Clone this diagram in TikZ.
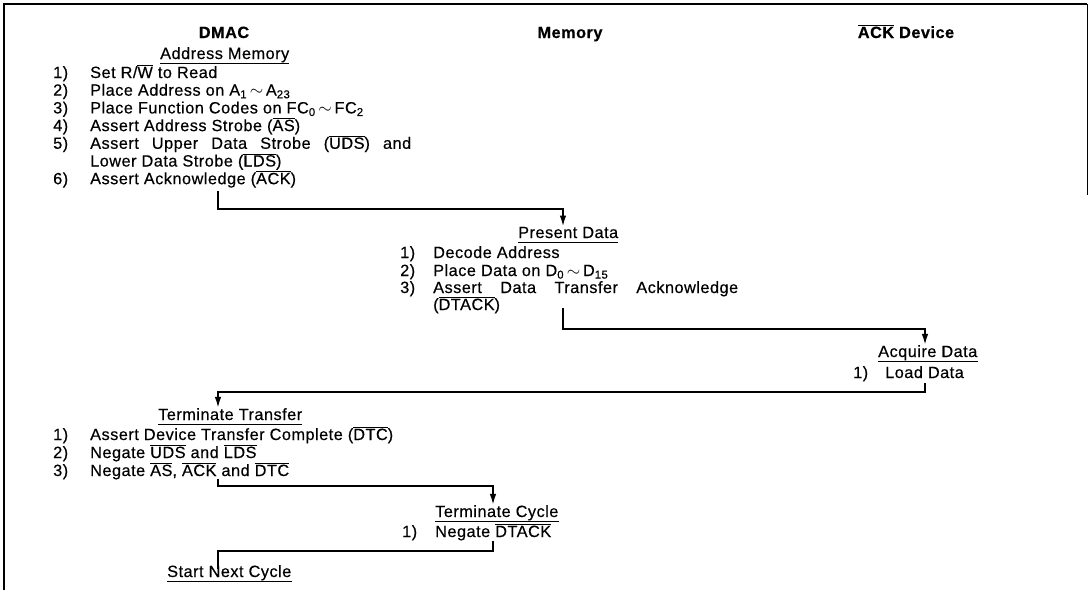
\documentclass[tikz,border=0pt]{standalone}
\usepackage{fontspec}
\setmainfont{Liberation Sans}[LetterSpace=3, FakeBold=0.4]
\usetikzlibrary{arrows.meta}
\newcommand{\nbar}[1]{$\overline{\mbox{#1}}$}
\newcommand{\tld}{\,$\sim$\,}
\begin{document}
\begin{tikzpicture}[x=1pt, y=-1pt,
    font=\fontsize{16.3}{17.7}\selectfont,
    every node/.style={inner sep=0pt},
    colhead/.style={anchor=base, font=\fontsize{16.3}{17.7}\selectfont\bfseries},
    stage/.style={anchor=base west},
    txt/.style={anchor=base west},
    uline/.style={line width=1.1pt},
    link/.style={line width=1.8pt},
    flow/.style={link, -{Latex[length=11pt,width=6.5pt]}}]
\useasboundingbox (0,0) rectangle (1089,590);

%% frame
\draw[line width=1.6pt] (4,590) -- (4,4) -- (1087,4);
\draw[line width=0.8pt] (1087,4) -- (1087,195);

%% column heads
\node[colhead] (hdmac) at (224,38) {DMAC};
\node[colhead] (hmem)  at (570,38) {Memory};
\node[colhead] (hack)  at (906,38) {\nbar{ACK} Device};

%% DMAC: address memory
\node[stage] (addrmem) at (160,59) {Address Memory};
\node[txt] (n1) at (53,78)    {1)};
\node[txt] (d1) at (90,78)    {Set R/\nbar{W} to Read};
\node[txt] (n2) at (53,95.7)  {2)};
\node[txt] (d2) at (90,95.7)  {Place Address on A\textsubscript{1}\tld A\textsubscript{23}};
\node[txt] (n3) at (53,113.4) {3)};
\node[txt] (d3) at (90,113.4) {Place Function Codes on FC\textsubscript{0}\tld FC\textsubscript{2}};
\node[txt] (n4) at (53,131.1) {4)};
\node[txt] (d4) at (90,131.1) {Assert Address Strobe (\nbar{AS})};
\node[txt] (n5) at (53,148.8) {5)};
\node[txt] (d5) at (90,148.8) {\makebox[321pt][s]{Assert Upper Data Strobe (\nbar{UDS}) and}};
\node[txt] (d5b) at (90,166.5) {Lower Data Strobe (\nbar{LDS})};
\node[txt] (n6) at (53,184.2) {6)};
\node[txt] (d6) at (90,184.2) {Assert Acknowledge (\nbar{ACK})};

%% Memory: present data
\node[stage] (present) at (518,238) {Present Data};
\node[txt] (p1n) at (400,258) {1)};
\node[txt] (p1)  at (433,258) {Decode Address};
\node[txt] (p2n) at (400,276) {2)};
\node[txt] (p2)  at (433,276) {Place Data on D\textsubscript{0}\tld D\textsubscript{15}};
\node[txt] (p3n) at (400,293) {3)};
\node[txt] (p3)  at (433,293) {\makebox[305pt][s]{Assert Data Transfer Acknowledge}};
\node[txt] (p3b) at (433,310) {(\nbar{DTACK})};

%% ACK device: acquire data
\node[stage] (acquire) at (878,357) {Acquire Data};
\node[txt] (q1n) at (853,378) {1)};
\node[txt] (q1)  at (885,378) {Load Data};

%% DMAC: terminate transfer
\node[stage] (term) at (158,420) {Terminate Transfer};
\node[txt] (t1n) at (53,440) {1)};
\node[txt] (t1)  at (90,440) {Assert Device Transfer Complete (\nbar{DTC})};
\node[txt] (t2n) at (53,458) {2)};
\node[txt] (t2)  at (90,458) {Negate \nbar{UDS} and \nbar{LDS}};
\node[txt] (t3n) at (53,476) {3)};
\node[txt] (t3)  at (90,476) {Negate \nbar{AS}, \nbar{ACK} and \nbar{DTC}};

%% Memory: terminate cycle
\node[stage] (tcyc) at (435,517) {Terminate Cycle};
\node[txt] (c1n) at (402,537) {1)};
\node[txt] (c1)  at (435,537) {Negate \nbar{DTACK}};

%% DMAC: start next cycle
\node[stage] (next) at (167,577) {Start Next Cycle};

%% stage underlines
\foreach \st in {addrmem, present, acquire, term, tcyc, next}
  \draw[uline] ([yshift=-4.5pt]\st.base west) -- ([yshift=-4.5pt]\st.base east);

%% hand-over lines
\coordinate (s1) at (218,191);  \coordinate (k1) at (563,209);
\coordinate (s2) at (563,308);  \coordinate (k2) at (925,329);
\coordinate (s3) at (925,383);  \coordinate (k3) at (218,392);
\coordinate (s4) at (218,479);  \coordinate (k4) at (493,486);
\coordinate (s5) at (493,541);  \coordinate (k5) at (218,551);

\draw[flow] (s1) |- (k1) -- (k1 |- present.north);
\draw[flow] (s2) |- (k2) -- (k2 |- acquire.north);
\draw[flow] (s3) |- (k3) -- (k3 |- term.north);
\draw[flow] (s4) |- (k4) -- (k4 |- tcyc.north);
\draw[link] (s5) |- (k5) -- ([yshift=-4pt]k5 |- next.north);

\end{tikzpicture}
\end{document}
